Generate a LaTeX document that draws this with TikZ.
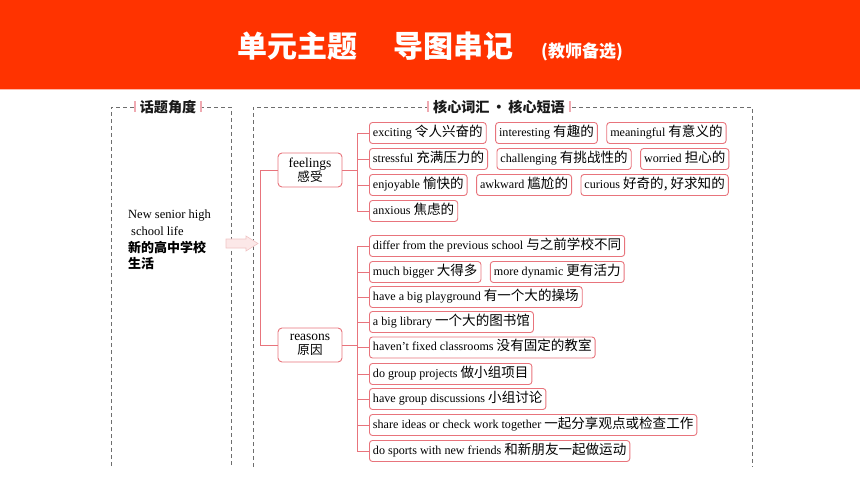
\documentclass[tikz,border=0pt]{standalone}
\usepackage{fontspec}
\setmainfont{Liberation Serif}
\usetikzlibrary{positioning}
\newfontfamily\cjk[Scale=1.12]{Noto Sans CJK SC}
\newcommand{\zh}[1]{{\cjk #1}}
\definecolor{headred}{RGB}{255,51,0}
\definecolor{headpale}{RGB}{255,184,168}
\definecolor{boxred}{RGB}{232,116,124}
\definecolor{barpink}{RGB}{240,170,178}
\definecolor{framegray}{RGB}{110,110,110}
\definecolor{arrowfill}{RGB}{252,232,232}
\definecolor{arrowline}{RGB}{240,196,196}

\begin{document}
\begin{tikzpicture}[x=1pt,y=-1pt,node distance=8.5pt,
	item/.style={draw=boxred,line width=0.9pt,rounded corners=3pt,fill=white,
		inner xsep=3.5pt,inner ysep=0pt,minimum height=21pt,text height=9.5pt,
		text depth=3pt,font=\fontsize{12.1}{13}\selectfont,text=black,anchor=west},
	hub/.style={draw=boxred,line width=0.9pt,rounded corners=4pt,fill=white,
		minimum width=64pt,minimum height=34pt,align=center,inner sep=1pt,
		font=\fontsize{13.5}{14}\selectfont,text=black},
	link/.style={draw=boxred,line width=0.9pt},
	frame/.style={draw=framegray,line width=0.7pt,dash pattern=on 4pt off 3pt},
	lbl/.style={fill=white,inner xsep=6pt,inner ysep=2pt,
		font=\cjk\bfseries\fontsize{12.6}{13}\selectfont,text=black!90}]
	\useasboundingbox (0,0) rectangle (860,484);
	% header
	\fill[headred] (0,0) rectangle (860,89);
	\fill[headpale] (0,89) rectangle (860,90.5);
	\node[text=white,font=\cjk\bfseries\fontsize{26.8}{27}\selectfont] (title) at (430,46)
		{单元主题\hspace{36pt}导图串记\hspace{28pt}{\fontsize{15.2}{16}\selectfont(教师备选)}};
	% frames
	\draw[frame] (111,466) -- (111,107) -- (231,107) -- (231,466);
	\draw[frame] (253,467) -- (253,107) -- (752,107) -- (752,467);
	\node[lbl] (topic) at (168,107) {话题角度};
	\node[lbl] (core) at (499,107) {核心词汇\,·\,核心短语};
	\fill[barpink] (topic.west) ++(0,-5.5) rectangle ++(2.5,11);
	\fill[barpink] (topic.east) ++(-2.5,-5.5) rectangle ++(2.5,11);
	\fill[barpink] (core.west) ++(0,-5.5) rectangle ++(2.5,11);
	\fill[barpink] (core.east) ++(-2.5,-5.5) rectangle ++(2.5,11);
	% topic
	\node[anchor=north west,align=left,inner sep=0pt,text=black,
		font=\fontsize{12.5}{16.6}\selectfont] (life) at (128,210)
		{New senior high\\\hspace{3pt}school life\\
		\zh{\bfseries\fontsize{11.6}{16.6}\selectfont 新的高中学校}\\
		\zh{\bfseries\fontsize{11.6}{16.6}\selectfont 生活}};
	\filldraw[fill=arrowfill,draw=arrowline,line width=0.6pt]
		(226,239) -- (246,239) -- (246,236) -- (258,243.5) -- (246,251) -- (246,248) -- (226,248) -- cycle;
	% hubs
	\node[hub] (feel) at (310,170) {feelings\\\zh{\fontsize{11.2}{14}\selectfont 感受}};
	\node[hub] (reas) at (310,345) {reasons\\\zh{\fontsize{11.2}{14}\selectfont 原因}};
	\draw[link] (feel.west) -- ++(-17,0) |- (reas.west);
	% feelings
	\node[item] (f1) at (369,133) {exciting \zh{令人兴奋的}};
	\node[item,right=of f1] (f2) {interesting \zh{有趣的}};
	\node[item,right=of f2] (f3) {meaningful \zh{有意义的}};
	\node[item] (f4) at (369,159) {stressful \zh{充满压力的}};
	\node[item,right=of f4] (f5) {challenging \zh{有挑战性的}};
	\node[item,right=of f5] (f6) {worried \zh{担心的}};
	\node[item] (f7) at (369,185) {enjoyable \zh{愉快的}};
	\node[item,right=of f7] (f8) {awkward \zh{尴尬的}};
	\node[item,right=of f8] (f9) {curious \zh{好奇的, 好求知的}};
	\node[item] (f10) at (369,211) {anxious \zh{焦虑的}};
	\draw[link] (feel.east) -- ++(15,0) |- (f1.west);
	\draw[link] (feel.east) -- ++(15,0) |- (f4.west);
	\draw[link] (feel.east) -- ++(15,0) |- (f7.west);
	\draw[link] (feel.east) -- ++(15,0) |- (f10.west);
	% reasons
	\node[item] (r1) at (369,246) {differ from the previous school \zh{与之前学校不同}};
	\node[item] (r2) at (369,272) {much bigger \zh{大得多}};
	\node[item,right=of r2] (r3) {more dynamic \zh{更有活力}};
	\node[item] (r4) at (369,297) {have a big playground \zh{有一个大的操场}};
	\node[item] (r5) at (369,322) {a big library \zh{一个大的图书馆}};
	\node[item] (r6) at (369,347.5) {haven't fixed classrooms \zh{没有固定的教室}};
	\node[item] (r7) at (369,374) {do group projects \zh{做小组项目}};
	\node[item] (r8) at (369,399) {have group discussions \zh{小组讨论}};
	\node[item] (r9) at (369,425) {share ideas or check work together \zh{一起分享观点或检查工作}};
	\node[item] (r10) at (369,451) {do sports with new friends \zh{和新朋友一起做运动}};
	\draw[link] (reas.east) -- ++(15,0) |- (r1.west);
	\draw[link] (reas.east) -- ++(15,0) |- (r2.west);
	\draw[link] (reas.east) -- ++(15,0) |- (r4.west);
	\draw[link] (reas.east) -- ++(15,0) |- (r5.west);
	\draw[link] (reas.east) -- ++(15,0) |- (r6.west);
	\draw[link] (reas.east) -- ++(15,0) |- (r7.west);
	\draw[link] (reas.east) -- ++(15,0) |- (r8.west);
	\draw[link] (reas.east) -- ++(15,0) |- (r9.west);
	\draw[link] (reas.east) -- ++(15,0) |- (r10.west);
\end{tikzpicture}
\end{document}
